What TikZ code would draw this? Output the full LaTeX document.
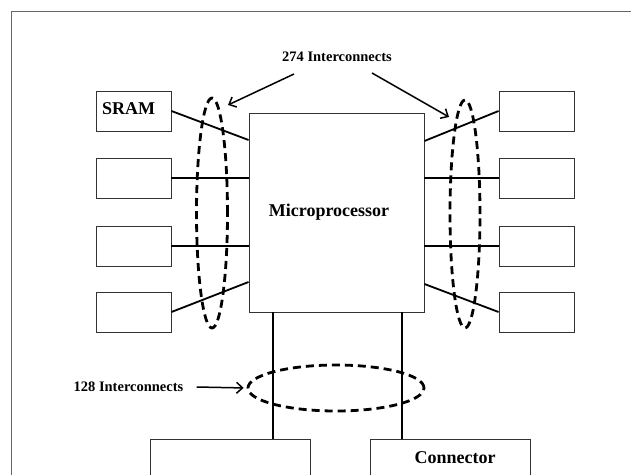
\documentclass[tikz,border=0pt]{standalone}
\usepackage{fontspec}
\setmainfont{Liberation Serif}
\usetikzlibrary{shapes.geometric,arrows.meta}

\tikzset{
  blk/.style={draw=black!80, line width=0.9pt, inner sep=0pt},
  wire/.style={line width=1.8pt},
  bundle/.style={draw, ellipse, line width=2.8pt, dash pattern=on 8pt off 5pt, inner sep=0pt},
  lbl/.style={font=\fontsize{18}{20}\selectfont\bfseries, inner sep=0pt},
  note/.style={font=\fontsize{14.5}{16}\selectfont\bfseries, inner sep=0pt},
  pointer/.style={line width=1.5pt, -{Straight Barb[length=6pt, width=11pt]}},
}

\begin{document}
\begin{tikzpicture}[x=1pt, y=-1pt]
  \useasboundingbox (0,0) rectangle (631,474);
  \clip (0,0) rectangle (631,474);
  % Frame
  \draw[black!60, line width=1pt] (11,11) rectangle (700,520);

  % Processor
  \node[blk, minimum width=175pt, minimum height=199pt] (micro) at (336.5,212.5) {};
  \node[lbl] (mlbl) at (329,212) {Microprocessor};

  % Memories left and right
  \foreach \i/\y in {1/111,2/178,3/246,4/312}{
    \node[blk, minimum width=75pt, minimum height=40pt] (s\i) at (133.5,\y) {};
    \node[blk, minimum width=75pt, minimum height=40pt] (r\i) at (536.5,\y) {};
  }
  \node[lbl] (slbl) at (128.5,109) {SRAM};

  % Lower boxes
  \node[blk, minimum width=160pt, minimum height=60pt] (b1) at (230,469) {};
  \node[blk, minimum width=160pt, minimum height=60pt] (b2) at (450,469) {};
  \node[lbl] (clbl) at (455,458) {Connector};

  % Wires
  \draw[wire] (s1.east) -- (micro.west |- 0,140);
  \draw[wire] (s2.east) -- (micro.west |- s2.east);
  \draw[wire] (s3.east) -- (micro.west |- s3.east);
  \draw[wire] (s4.east) -- (micro.west |- 0,282);
  \draw[wire] (micro.east |- 0,141) -- (r1.west);
  \draw[wire] (micro.east |- r2.west) -- (r2.west);
  \draw[wire] (micro.east |- r3.west) -- (r3.west);
  \draw[wire] (micro.east |- 0,284) -- (r4.west);
  \draw[wire, line width=1.5pt] (micro.south -| 273,0) -- (b1.north -| 273,0);
  \draw[wire, line width=1.5pt] (micro.south -| 402,0) -- (b2.north -| 402,0);

  % Bundles
  \node[bundle, minimum width=31pt, minimum height=230pt] (lbun) at (212,213) {};
  \node[bundle, minimum width=30pt, minimum height=228pt] (rbun) at (465,214) {};
  \node[bundle, minimum width=176pt, minimum height=46pt] (bbun) at (336,388) {};

  % Notes
  \node[note] (topnote) at (337,57) {274 Interconnects};
  \node[note] (botnote) at (128.5,387) {128 Interconnects};
  \coordinate (la) at (294,74);
  \coordinate (lt) at (228,105);
  \coordinate (ra) at (372,73);
  \coordinate (rt) at (449,117);
  \draw[pointer] (la) -- (lt);
  \draw[pointer] (ra) -- (rt);
  \draw[pointer, shorten >=3pt] ([xshift=13pt]botnote.east) -- (bbun.west);
\end{tikzpicture}
\end{document}
